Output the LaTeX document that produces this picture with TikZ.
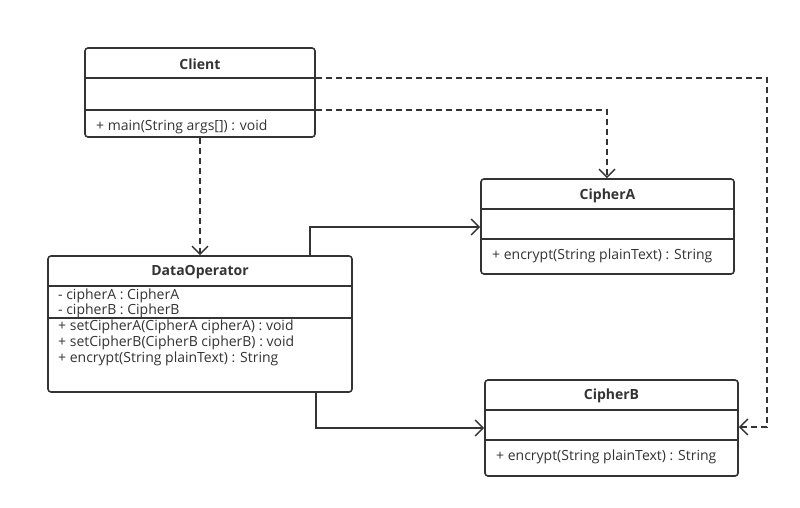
\documentclass[tikz,border=0pt]{standalone}
\usepackage{fontspec}
\setmainfont{Open Sans}
\usetikzlibrary{arrows.meta}
\definecolor{ink}{HTML}{333333}
\begin{document}
\begin{tikzpicture}[x=1pt,y=-1pt,
  cls/.style={draw=ink, line width=1.6pt, rounded corners=3pt, inner sep=0pt},
  sep/.style={draw=ink, line width=1.3pt},
  title/.style={font=\fontsize{14}{16}\selectfont\bfseries, text=ink, inner sep=0pt},
  mem/.style={font=\fontsize{14}{16}\selectfont, text=ink, inner sep=0pt, anchor=west},
  dep/.style={draw=ink, line width=1.4pt, dash pattern=on 6pt off 4pt, -{Straight Barb[length=8pt,width=16pt,line width=1.4pt]}},
  assoc/.style={draw=ink, line width=1.4pt, -{Straight Barb[length=8pt,width=16pt,line width=1.4pt]}}
]
\useasboundingbox (0,0) rectangle (800,508);
\fill[white] (0,0) rectangle (800,508);

% Client
\node[cls, minimum width=230pt, minimum height=89pt] (client) at (200,92.5) {};
\draw[sep] (85,78) -- (315,78);
\draw[sep] (85,110) -- (315,110);
\node[title] (clientT) at (200,64) {Client};
\node[mem] (clientM) at (96,127) {+ main(String args[]) : void};

% CipherA
\node[cls, minimum width=253pt, minimum height=95pt] (ca) at (607.5,226.5) {};
\draw[sep] (481,209) -- (734,209);
\draw[sep] (481,239) -- (734,239);
\node[title] (caT) at (607.5,196) {CipherA};
\node[mem] (caM) at (492,256) {+ encrypt(String plainText) : String};

% CipherB
\node[cls, minimum width=253pt, minimum height=96pt] (cb) at (611.5,428) {};
\draw[sep] (485,410) -- (738,410);
\draw[sep] (485,440) -- (738,440);
\node[title] (cbT) at (611.5,396) {CipherB};
\node[mem] (cbM) at (496,457) {+ encrypt(String plainText) : String};

% DataOperator
\node[cls, minimum width=304pt, minimum height=136pt] (dop) at (200,324) {};
\draw[sep] (48,286) -- (352,286);
\draw[sep] (48,318) -- (352,318);
\node[title] (dopT) at (200,272) {DataOperator};
\node[mem] (dopA1) at (58,295.5) {- cipherA : CipherA};
\node[mem] (dopA2) at (58,310.5) {- cipherB : CipherB};
\node[mem] (dopM1) at (58,327) {+ setCipherA(CipherA cipherA) : void};
\node[mem] (dopM2) at (58,343) {+ setCipherB(CipherB cipherB) : void};
\node[mem] (dopM3) at (58,359) {+ encrypt(String plainText) : String};

% connectors
\coordinate (c1) at (767,78);
\coordinate (c2) at (767,427);
\draw[dep] (client.east |- 0,78) -- (c1) -- (c2) -- (cb.east |- c2);
\coordinate (c3) at (607,110);
\draw[dep] (client.east |- c3) -- (c3) -- (ca.north -| c3);
\draw[dep] (client.south) -- (dop.north);
\coordinate (c4) at (310,227);
\draw[assoc] (dop.north -| c4) -- (c4) -- (ca.west |- c4);
\coordinate (c5) at (316,428);
\draw[assoc] (dop.south -| c5) -- (c5) -- (cb.west |- c5);
\end{tikzpicture}
\end{document}
